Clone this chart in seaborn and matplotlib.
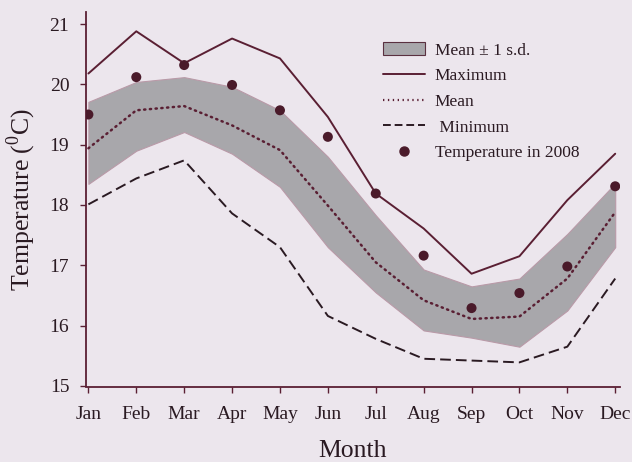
import numpy as np
import pandas as pd
import matplotlib
matplotlib.use("Agg")
import matplotlib.pyplot as plt
import seaborn as sns
from matplotlib.patches import Patch
from matplotlib.lines import Line2D

months = ["Jan", "Feb", "Mar", "Apr", "May", "Jun", "Jul", "Aug", "Sep", "Oct", "Nov", "Dec"]
t_max = [20.18, 20.88, 20.35, 20.76, 20.43, 19.46, 18.19, 17.61, 16.86, 17.15, 18.08, 18.85]
t_mean = [18.94, 19.57, 19.64, 19.32, 18.91, 17.99, 17.05, 16.42, 16.11, 16.15, 16.78, 17.88]
t_min = [18.01, 18.44, 18.74, 17.86, 17.30, 16.16, 15.78, 15.45, 15.42, 15.39, 15.65, 16.78]
sd_upper = [19.71, 20.04, 20.12, 19.96, 19.57, 18.80, 17.83, 16.93, 16.65, 16.78, 17.52, 18.36]
sd_lower = [18.35, 18.90, 19.21, 18.85, 18.30, 17.30, 16.55, 15.92, 15.80, 15.65, 16.25, 17.30]
t_2008 = [19.50, 20.12, 20.32, 19.99, 19.57, 19.13, 18.19, 17.16, 16.29, 16.54, 16.98, 18.31]

df = pd.DataFrame({"Month": months, "Max": t_max, "Mean": t_mean, "Min": t_min,
                   "Upper": sd_upper, "Lower": sd_lower, "Y2008": t_2008})

sns.set_theme(style="ticks")
plt.rcParams["font.family"] = ["Liberation Serif", "DejaVu Serif"]
plt.rcParams["mathtext.fontset"] = "custom"
plt.rcParams["mathtext.rm"] = "Liberation Serif"

bg = "#ece6ed"
ink = "#5a1f33"
txt = "#2a1a22"
fig = plt.figure(figsize=(6.32, 4.62), dpi=100, facecolor=bg)
ax = fig.add_axes([86 / 632, 1 - 386.5 / 462, (620 - 86) / 632, (386.5 - 12) / 462])
ax.set_facecolor(bg)

xpos = np.arange(len(months))
ax.fill_between(xpos, df["Lower"], df["Upper"], facecolor="#a8a7ab", edgecolor="#b99aa8",
                linewidth=0.8, zorder=1)
sns.lineplot(data=df, x="Month", y="Max", ax=ax, color=ink, linewidth=1.4, sort=False, zorder=3)
sns.lineplot(data=df, x="Month", y="Mean", ax=ax, color=ink, linewidth=1.8, sort=False,
             linestyle=(0, (0.5, 1.8)), dash_capstyle="round", zorder=3)
sns.lineplot(data=df, x="Month", y="Min", ax=ax, color=txt, linewidth=1.4, sort=False,
             linestyle=(0, (5.5, 2.6)), zorder=3)
sns.scatterplot(data=df, x="Month", y="Y2008", ax=ax, color="#4a1a2a", s=52,
                edgecolor="none", zorder=4)

ax.set_xlim(-0.05, 11.1)
ax.set_ylim(14.99, 21.2)
ax.set_yticks([15, 16, 17, 18, 19, 20, 21])
ax.set_xticks(xpos)
ax.set_xticklabels(months)
sns.despine(ax=ax)
for s in ["left", "bottom"]:
    ax.spines[s].set_color(ink)
    ax.spines[s].set_linewidth(1.3)
ax.tick_params(axis="both", colors=ink, labelcolor=txt, labelsize=14,
               length=4, width=1.0, direction="out")
ax.tick_params(axis="x", pad=10)
ax.tick_params(axis="y", pad=8)
ax.set_xlabel("Month", fontsize=18.5, color=txt, labelpad=12)
ax.set_ylabel("Temperature ($^{\\rm 0}$C)", fontsize=18.5, color=txt, labelpad=8)

handles = [
    Patch(facecolor="#a8a7ab", edgecolor="#5a3040", linewidth=0.8),
    Line2D([], [], color=ink, linewidth=1.4),
    Line2D([], [], color=ink, linewidth=1.6, linestyle=(0, (0.6, 1.6))),
    Line2D([], [], color=txt, linewidth=1.4, linestyle=(0, (4, 2))),
    Line2D([], [], color="#4a1a2a", marker="o", markersize=6.5, linestyle="none"),
]
labels = ["Mean \u00b1 1 s.d.", "Maximum", "Mean", " Minimum", "Temperature in 2008"]
leg = ax.legend(handles, labels, loc="upper left", bbox_to_anchor=(0.556, 0.92),
                frameon=False, fontsize=12.5, handlelength=2.4, handletextpad=0.58,
                labelspacing=0.52, borderpad=0, borderaxespad=0, handleheight=0.8)
for t in leg.get_texts():
    t.set_color(txt)

fig.savefig("out.png", dpi=100, facecolor=bg)
